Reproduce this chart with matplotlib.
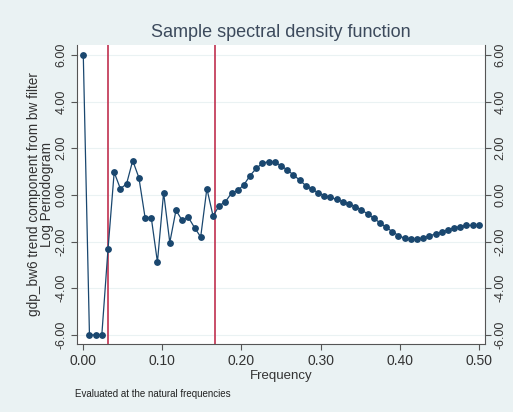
import numpy as np
import matplotlib
matplotlib.use("Agg")
import matplotlib.pyplot as plt

plt.rcParams['font.family'] = ['Liberation Sans', 'DejaVu Sans']

# log periodogram, natural frequencies j/128
n_obs = 128
log_pgram = [6.00, -6.00, -6.00, -6.00, -2.33, 0.97, 0.27, 0.47, 1.47, 0.74,
             -0.97, -0.97, -2.88, 0.10, -2.04, -0.66, -1.09, -0.96, -1.40, -1.80,
             0.27, -0.90, -0.46, -0.29, 0.08, 0.19, 0.44, 0.83, 1.14, 1.36,
             1.43, 1.39, 1.26, 1.07, 0.86, 0.64, 0.40, 0.24, 0.10, -0.03,
             -0.11, -0.19, -0.29, -0.39, -0.50, -0.64, -0.81, -1.00, -1.19, -1.39,
             -1.57, -1.74, -1.86, -1.90, -1.90, -1.84, -1.76, -1.67, -1.59, -1.50,
             -1.41, -1.36, -1.31, -1.30, -1.30]
freq = np.arange(len(log_pgram)) / n_obs
band_lines = [1 / 32, 1 / 6]
x_ticks = [0.0, 0.1, 0.2, 0.3, 0.4, 0.5]
y_ticks = [-6, -4, -2, 0, 2, 4, 6]

bg = '#eaf2f3'
navy = '#1a476f'
txt = '#333333'

fig = plt.figure(figsize=(5.13, 4.12), dpi=100, facecolor=bg)
ax = fig.add_axes([0.150, 0.165, 0.795, 0.726])
ax.set_facecolor('white')

for y in y_ticks:
    ax.axhline(y, color=bg, lw=0.8, zorder=0)
for b in band_lines:
    ax.axvline(b, color='#c0304f', lw=1.2, zorder=1)
ax.plot(freq, log_pgram, color=navy, lw=0.9, marker='o', ms=3.9,
        mfc=navy, mec=navy, zorder=3)

ax.set_xlim(-0.008, 0.5076)
ax.set_ylim(-6.39, 6.43)
ax.set_xticks(x_ticks)
ax.set_xticklabels(['%.2f' % v for v in x_ticks], fontsize=10, color=txt)
ax.set_yticks(y_ticks)
ax.set_yticklabels(['%.2f' % v for v in y_ticks], fontsize=9, color=txt,
                   rotation=90, va='center')
ax.tick_params(axis='both', direction='out', length=4, color='#555555',
               width=0.8, pad=3)
ax.tick_params(axis='y', right=True, labelright=True)

for s in ['left', 'right', 'bottom']:
    ax.spines[s].set_color('#555555')
    ax.spines[s].set_linewidth(0.8)
ax.spines['top'].set_visible(False)

ax.set_xlabel('Frequency', fontsize=9.5, color=txt, labelpad=1.5)
ax.set_ylabel('gdp_bw6 trend component from bw filter\nLog Periodogram',
              fontsize=9.8, color=txt, linespacing=0.85, labelpad=1)
fig.text(0.547, 0.92, 'Sample spectral density function', ha='center',
         va='center', fontsize=13, color='#3c4a5c')
fig.text(0.146, 0.044, 'Evaluated at the natural frequencies', fontsize=7,
         color='#222222', va='center')

fig.savefig('out.png', dpi=100, facecolor=bg)
